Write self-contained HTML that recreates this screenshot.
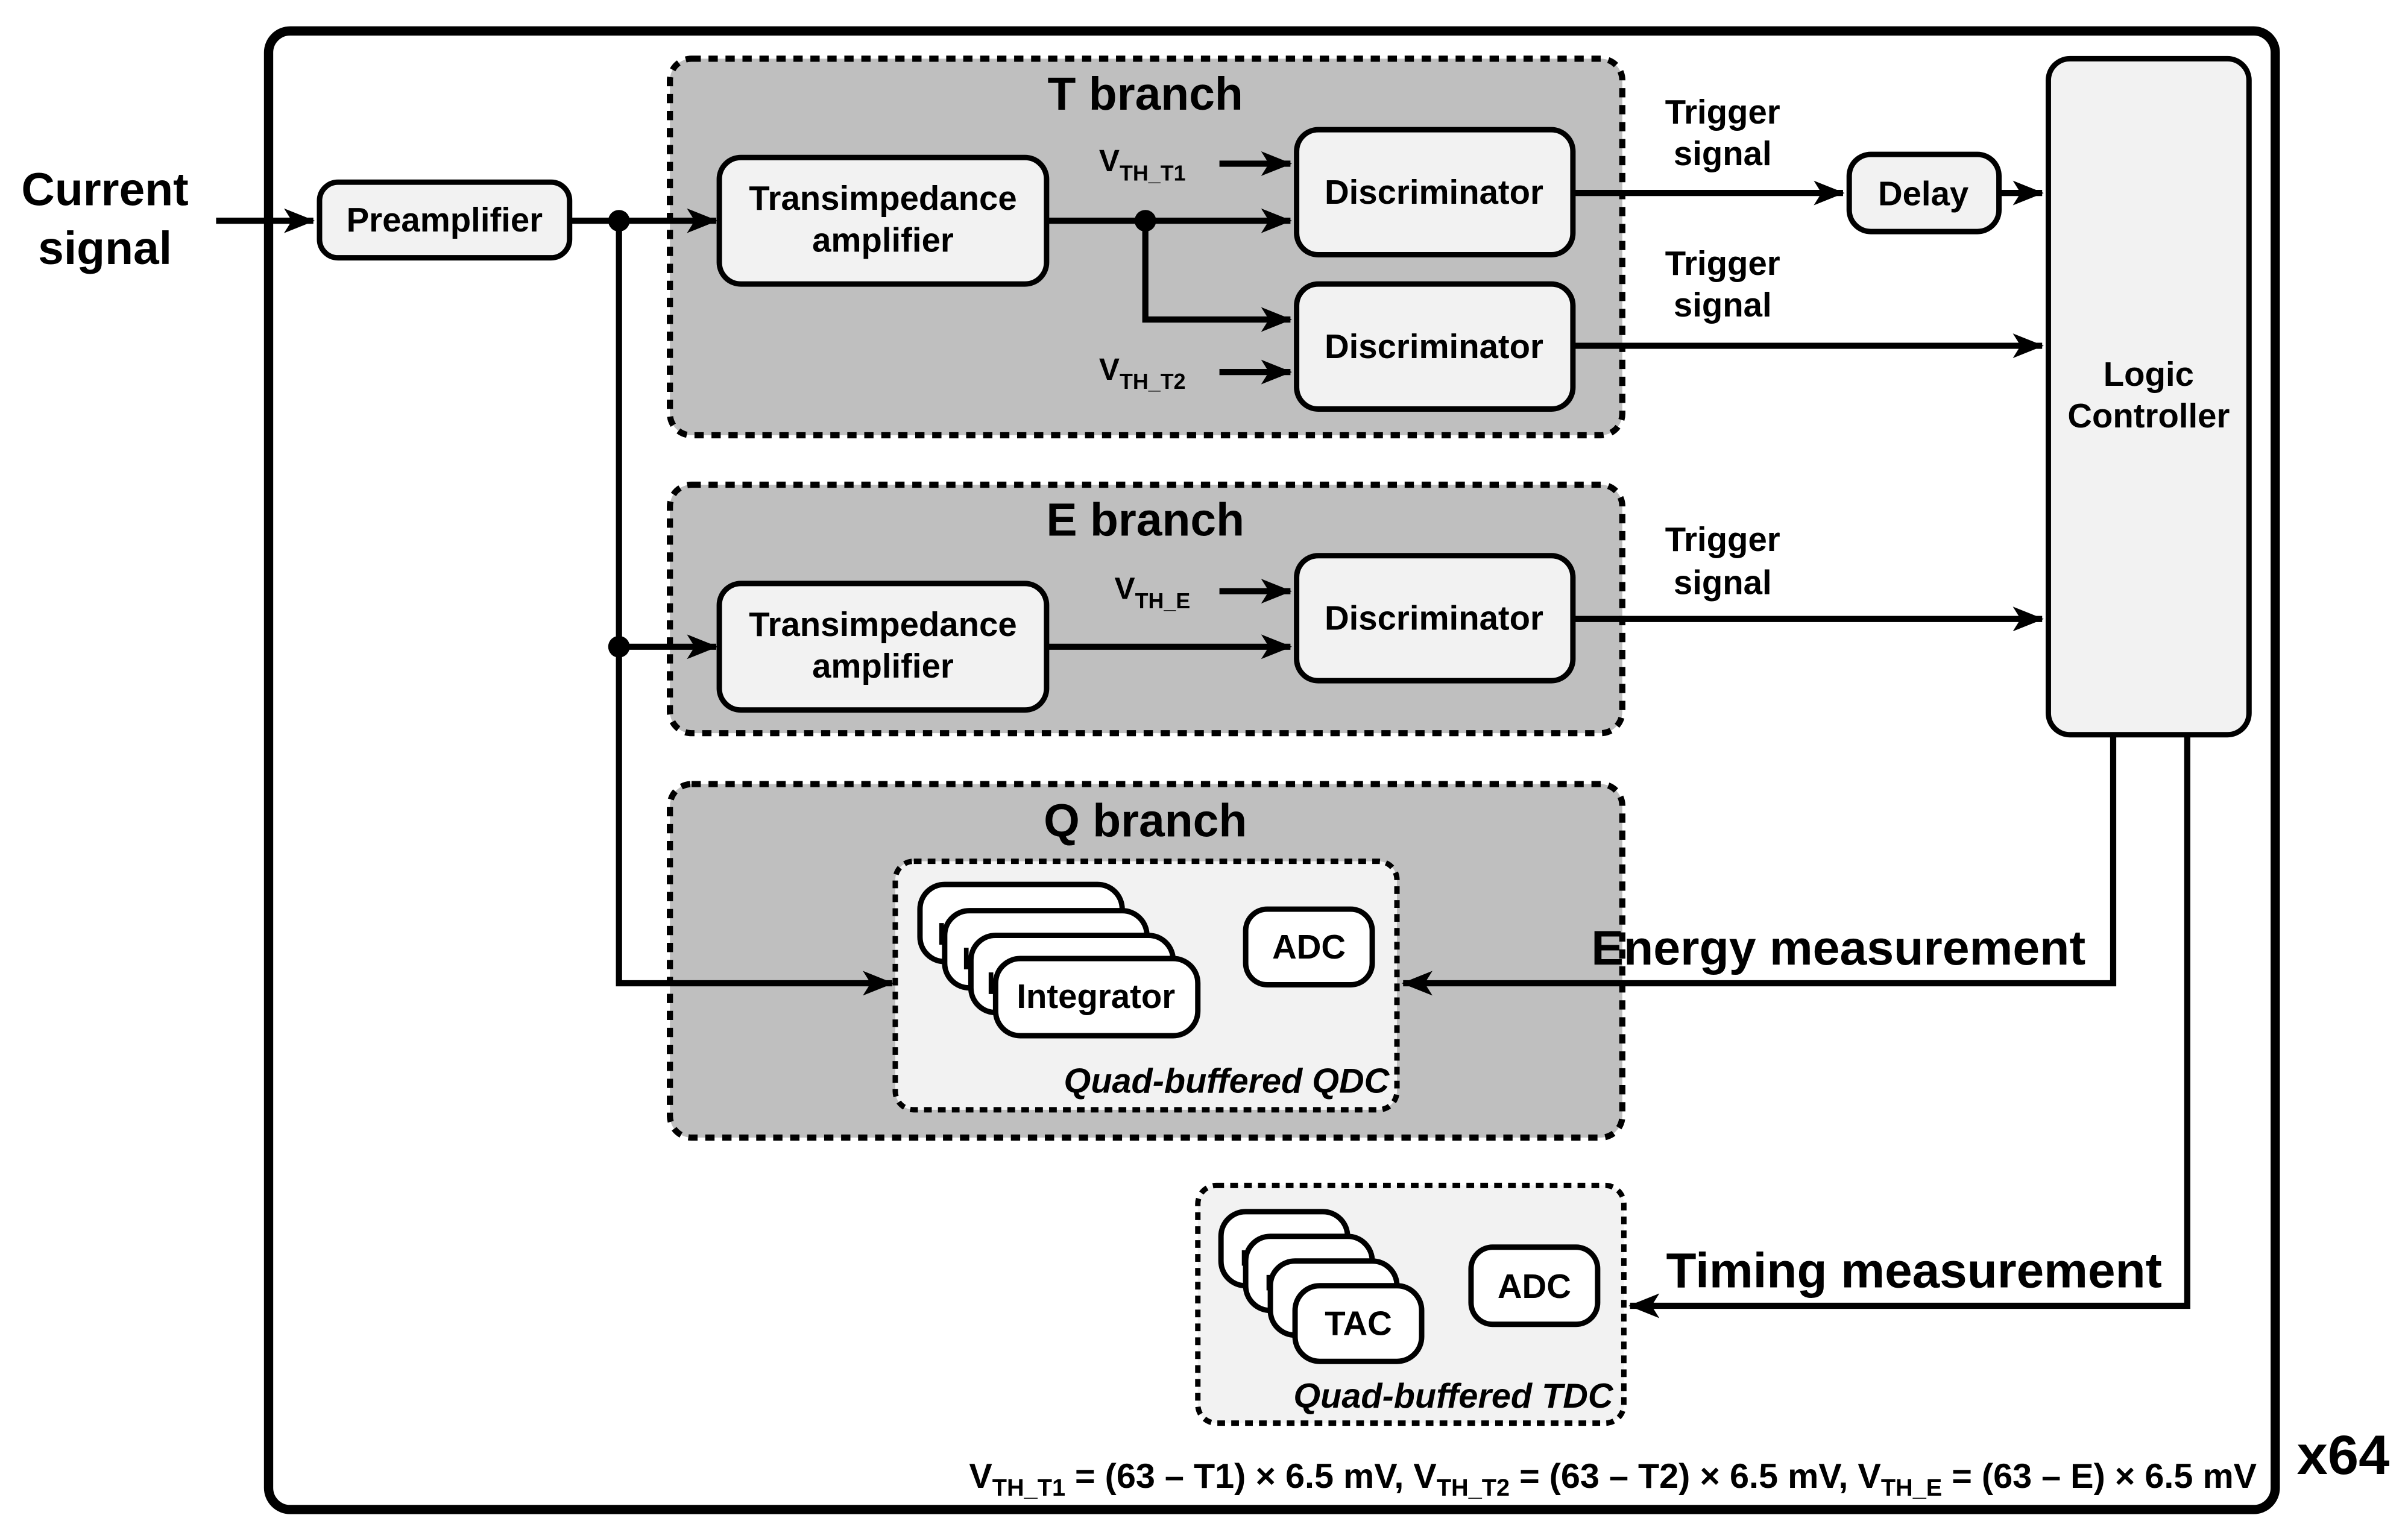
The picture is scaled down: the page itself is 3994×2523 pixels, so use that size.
<!DOCTYPE html>
<html><head><meta charset="utf-8"><style>html,body{margin:0;padding:0;background:#fff}svg{display:block}text{font-family:"Liberation Sans",Arial,sans-serif;font-weight:bold;fill:#000}</style></head>
<body>
<svg width="3994" height="2523" viewBox="0 0 1560 985.4" xmlns="http://www.w3.org/2000/svg">
<defs>
<marker id="b" markerWidth="20" markerHeight="16" refX="19" refY="8" orient="auto" markerUnits="userSpaceOnUse" viewBox="0 0 20 16"><path d="M0,0 L20,8 L0,16 L5,8 z" fill="#000"/></marker>
</defs>
<rect x="0" y="0" width="1560" height="985.4" fill="#fff"/>
<rect x="174" y="20" width="1300" height="958" rx="14" fill="#fff" stroke="#000" stroke-width="6"/>
<g fill="#bfbfbf" stroke="#000" stroke-width="4" stroke-dasharray="6,5">
<rect x="434" y="38" width="617" height="244" rx="14"/>
<rect x="434" y="314" width="617" height="161" rx="14"/>
<rect x="434" y="508" width="617" height="229" rx="14"/>
</g>
<g fill="#f2f2f2" stroke="#000" stroke-width="3.5" stroke-dasharray="5,4">
<rect x="580" y="558" width="325" height="161" rx="12"/>
<rect x="776" y="768" width="276" height="154" rx="12"/>
</g>
<text x="742" y="71" font-size="30" text-anchor="middle">T branch</text>
<text x="742" y="347" font-size="30" text-anchor="middle">E branch</text>
<text x="742" y="542" font-size="30" text-anchor="middle">Q branch</text>
<g stroke="#000" stroke-width="4" fill="none">
<path d="M140,143 H203" marker-end="url(#b)"/>
<path d="M369,143 H464" marker-end="url(#b)"/>
<path d="M401,143 V637 H578" marker-end="url(#b)"/>
<path d="M401,419 H464" marker-end="url(#b)"/>
<path d="M678,143 H836" marker-end="url(#b)"/>
<path d="M742,143 V207 H836" marker-end="url(#b)"/>
<path d="M790,106 H836" marker-end="url(#b)"/>
<path d="M790,241 H836" marker-end="url(#b)"/>
<path d="M790,383 H836" marker-end="url(#b)"/>
<path d="M678,419 H836" marker-end="url(#b)"/>
<path d="M1019,125 H1194" marker-end="url(#b)"/>
<path d="M1295,125 H1323" marker-end="url(#b)"/>
<path d="M1019,224 H1323" marker-end="url(#b)"/>
<path d="M1019,401 H1323" marker-end="url(#b)"/>
<path d="M1369,476 V637 H909" marker-end="url(#b)"/>
<path d="M1417,476 V846 H1056" marker-end="url(#b)"/>
</g>
<circle cx="401" cy="143" r="7"/><circle cx="401" cy="419" r="7"/><circle cx="742" cy="143" r="7"/>
<g fill="#f2f2f2" stroke="#000" stroke-width="3.5">
<rect x="207" y="118" width="162" height="49" rx="12"/>
<rect x="466" y="102" width="212" height="82" rx="14"/>
<rect x="466" y="378" width="212" height="82" rx="14"/>
<rect x="840" y="84" width="179" height="81" rx="14"/>
<rect x="840" y="184" width="179" height="81" rx="14"/>
<rect x="840" y="360" width="179" height="81" rx="14"/>
<rect x="1198" y="100" width="97" height="50" rx="14"/>
<rect x="1327" y="38" width="130" height="438" rx="14"/>
</g>
<g fill="#fff" stroke="#000" stroke-width="3.5">
<rect x="596" y="573" width="131" height="50" rx="16"/>
<rect x="612" y="590" width="131" height="50" rx="16"/>
<rect x="629" y="606" width="131" height="50" rx="16"/>
<rect x="645" y="621" width="131" height="50" rx="16"/>
<rect x="807" y="589" width="82" height="49" rx="14"/>
<rect x="791" y="785" width="82" height="48" rx="16"/>
<rect x="807" y="801" width="82" height="48" rx="16"/>
<rect x="823" y="817" width="82" height="48" rx="16"/>
<rect x="839" y="833" width="82" height="49" rx="16"/>
<rect x="953" y="808" width="82" height="50" rx="14"/>
</g>
<g stroke="#000" stroke-width="3"><path d="M610,598V612"/><path d="M626,614V628"/><path d="M642,630V644"/><path d="M806,810v10"/><path d="M822,826v10"/></g>
<g font-size="22" text-anchor="middle">
<text x="288" y="150">Preamplifier</text>
<text x="572" y="136">Transimpedance</text><text x="572" y="163">amplifier</text>
<text x="572" y="412">Transimpedance</text><text x="572" y="439">amplifier</text>
<text x="929" y="132">Discriminator</text>
<text x="929" y="232">Discriminator</text>
<text x="929" y="408">Discriminator</text>
<text x="1246" y="133">Delay</text>
<text x="1392" y="250">Logic</text><text x="1392" y="277">Controller</text>
<text x="710" y="653">Integrator</text>
<text x="848" y="621">ADC</text>
<text x="880" y="865">TAC</text>
<text x="994" y="841">ADC</text>
<text x="1116" y="80">Trigger</text><text x="1116" y="107">signal</text>
<text x="1116" y="178">Trigger</text><text x="1116" y="205">signal</text>
<text x="1116" y="357">Trigger</text><text x="1116" y="385">signal</text>
</g>
<text x="68" y="133" font-size="30" text-anchor="middle">Current</text>
<text x="68" y="171" font-size="30" text-anchor="middle">signal</text>
<text x="712" y="111" font-size="20">V<tspan font-size="14" dy="6">TH_T1</tspan></text>
<text x="712" y="246" font-size="20">V<tspan font-size="14" dy="6">TH_T2</tspan></text>
<text x="722" y="388" font-size="20">V<tspan font-size="14" dy="6">TH_E</tspan></text>
<text x="1191" y="625" font-size="31.5" text-anchor="middle">Energy measurement</text>
<text x="1240" y="834" font-size="32" text-anchor="middle">Timing measurement</text>
<text x="900" y="708" font-size="22.5" font-style="italic" text-anchor="end">Quad-buffered QDC</text>
<text x="1045" y="912" font-size="22.5" font-style="italic" text-anchor="end">Quad-buffered TDC</text>
<text x="1518" y="955" font-size="36" text-anchor="middle">x64</text>
<text x="1462" y="964" font-size="22.5" text-anchor="end">V<tspan font-size="15.5" dy="5">TH_T1</tspan><tspan dy="-5"> = (63 – T1) × 6.5 mV, V</tspan><tspan font-size="15.5" dy="5">TH_T2</tspan><tspan dy="-5"> = (63 – T2) × 6.5 mV, V</tspan><tspan font-size="15.5" dy="5">TH_E</tspan><tspan dy="-5"> = (63 – E) × 6.5 mV</tspan></text>
</svg>
</body></html>
